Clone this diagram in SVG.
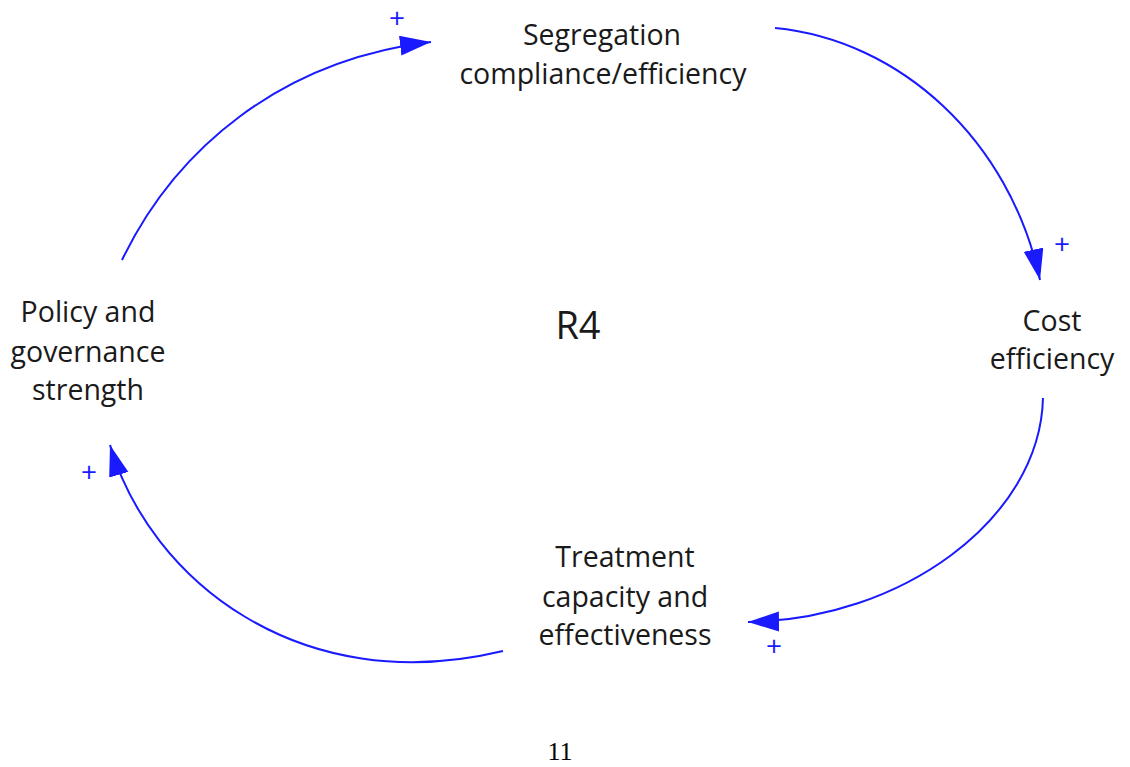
<svg xmlns="http://www.w3.org/2000/svg" width="1130" height="767" viewBox="0 0 1130 767">
<defs>
<style>
.lbl{font-family:"Open Sans","Noto Sans",sans-serif;font-size:28.5px;fill:#1a1a1a;text-anchor:middle}
.pol{font-family:"Open Sans","Noto Sans",sans-serif;font-size:28px;fill:#1a1aff;text-anchor:middle}
.link{fill:none;stroke:#1a1aff;stroke-width:2;marker-end:url(#ah)}
</style>
<marker id="ah" markerUnits="userSpaceOnUse" markerWidth="34" markerHeight="22" refX="31" refY="10" orient="auto">
<path d="M0,0 L31,10 L0,20 z" fill="#1a1aff"/>
</marker>
</defs>
<rect width="1130" height="767" fill="#fff"/>
<g id="connectors">
<path class="link" d="M122,260 C175,150 280,60 431,42"/>
<path class="link" d="M775,28 C900,40 1010,140 1040,280"/>
<path class="link" d="M1043,398 C1040,520 900,620 748,622"/>
<path class="link" d="M503,651 C300,700 150,580 110,445"/>
<text class="pol" x="397" y="28">+</text>
<text class="pol" x="1062" y="254">+</text>
<text class="pol" x="774" y="656">+</text>
<text class="pol" x="89" y="482">+</text>
</g>
<g id="segregation"><text class="lbl" x="602" y="45">Segregation</text><text class="lbl" x="603" y="84">compliance/efficiency</text></g>
<g id="cost"><text class="lbl" x="1052" y="331">Cost</text><text class="lbl" x="1052" y="369">efficiency</text></g>
<g id="treatment"><text class="lbl" x="625" y="567">Treatment</text><text class="lbl" x="625" y="607">capacity and</text><text class="lbl" x="625" y="645">effectiveness</text></g>
<g id="policy"><text class="lbl" x="88" y="322">Policy and</text><text class="lbl" x="88" y="362">governance</text><text class="lbl" x="88" y="400">strength</text></g>
<g id="loop"><text x="578" y="339" style="font-family:'Open Sans','Noto Sans',sans-serif;font-size:38px;fill:#1a1a1a;text-anchor:middle">R4</text></g>
<text x="560" y="760" style="font-family:'Liberation Serif',serif;font-size:26px;fill:#000;text-anchor:middle">11</text>
</svg>
